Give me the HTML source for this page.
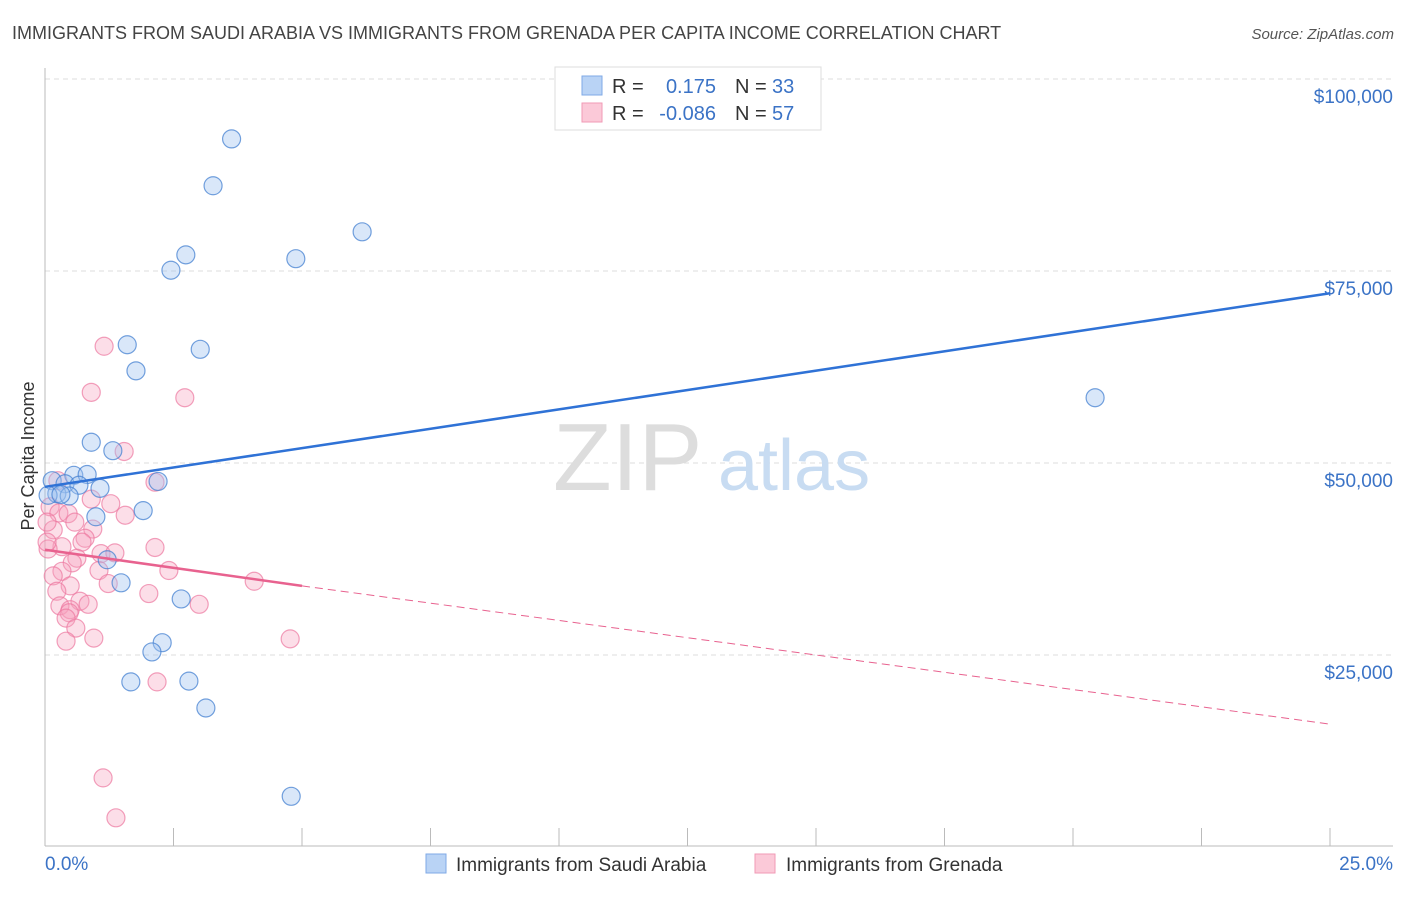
<!DOCTYPE html>
<html><head><meta charset="utf-8"><style>
body{margin:0;background:#fff;font-family:"Liberation Sans",sans-serif;}
svg text{font-family:"Liberation Sans",sans-serif;}
</style></head><body>
<svg id="chart" width="1406" height="892" xmlns="http://www.w3.org/2000/svg">
<text x="12" y="39" font-size="18" fill="#444">IMMIGRANTS FROM SAUDI ARABIA VS IMMIGRANTS FROM GRENADA PER CAPITA INCOME CORRELATION CHART</text>
<text x="1394" y="39" font-size="15" fill="#555" font-style="italic" text-anchor="end">Source: ZipAtlas.com</text>
<text transform="translate(34,456) rotate(-90)" font-size="18" fill="#333" text-anchor="middle">Per Capita Income</text>
<g id="grid"></g>
<g><text x="553" y="490" font-size="96" fill="#ddd" font-family="Liberation Serif,serif">ZIP</text><text x="718" y="490" font-size="72" fill="#c8dcf2">atlas</text></g>
<g id="axes"></g>
<g id="marks"></g>
<g>
<rect x="555" y="67" width="266" height="63" fill="#fff" stroke="#ddd"/>
<rect x="582" y="76" width="20" height="19" fill="#b9d3f5" stroke="#7fa9e6"/>
<rect x="582" y="103" width="20" height="19" fill="#fbc9d8" stroke="#f09ab6"/>
<text x="612" y="93" font-size="20" fill="#333">R =</text>
<text x="716" y="93" font-size="20" fill="#3b73c6" text-anchor="end">0.175</text>
<text x="735" y="93" font-size="20" fill="#333">N =</text><text x="772" y="93" font-size="20" fill="#3b73c6">33</text>
<text x="612" y="120" font-size="20" fill="#333">R =</text>
<text x="716" y="120" font-size="20" fill="#3b73c6" text-anchor="end">-0.086</text>
<text x="735" y="120" font-size="20" fill="#333">N =</text><text x="772" y="120" font-size="20" fill="#3b73c6">57</text>
</g>
<g>
<rect x="426" y="854" width="20" height="19" fill="#b9d3f5" stroke="#7fa9e6"/>
<text x="456" y="871" font-size="19" fill="#333">Immigrants from Saudi Arabia</text>
<rect x="755" y="854" width="20" height="19" fill="#fbc9d8" stroke="#f09ab6"/>
<text x="786" y="871" font-size="19" fill="#333">Immigrants from Grenada</text>
</g>
</svg>
<script>
const yTicks=[25000,50000,75000,100000];
const yTickLabels=["$25,000","$50,000","$75,000","$100,000"];
const xTicks=[0,2.5,5,7.5,10,12.5,15,17.5,20,22.5,25];
const saudiX=[3.63,3.27,6.17,2.74,2.45,4.88,1.60,3.02,1.77,20.43,0.90,1.32,0.56,0.82,0.14,0.39,0.66,1.07,2.20,0.23,0.47,0.06,0.31,1.91,0.99,1.21,1.48,2.65,2.28,2.08,1.67,2.80,3.13,4.79];
const saudiY=[92200,86100,80100,77100,75100,76600,65400,64800,62000,58500,52700,51600,48400,48500,47700,47300,47100,46700,47600,46000,45700,45800,45900,43800,43000,37400,34400,32300,26600,25400,21500,21600,18100,6600];
const grenadaX=[1.15,0.90,2.72,1.54,0.25,2.14,0.90,1.28,0.10,0.27,0.45,1.56,0.58,0.93,0.16,0.78,0.33,2.14,0.06,0.72,1.09,0.62,1.36,0.53,1.05,2.41,0.33,0.16,1.23,0.49,4.07,0.23,2.02,0.68,0.84,0.29,3.00,0.49,0.47,0.41,0.60,0.41,0.95,4.77,2.18,1.13,1.38,0.04,0.04];
const grenadaY=[65200,59200,58500,51500,47700,47500,45300,44700,44300,43500,43400,43200,42300,41400,41300,40200,39100,39000,38800,39700,38200,37600,38300,37000,36000,36000,35900,35300,34300,34000,34600,33300,33000,32000,31600,31400,31600,30900,30500,29800,28500,26800,27200,27100,21500,9000,3800,42300,39700];
const saudiTrend=[[0,46900],[25,72100]];
const grenadaSolid=[[0,38700],[5,34000]];
const grenadaDash=[[5,34000],[25,16000]];
const X0=45,X1=1330,Y0=847,PXV=192/25000;
function sx(v){return X0+(v/25)*(X1-X0);}
function sy(v){return Y0-v*PXV;}
const NS="http://www.w3.org/2000/svg";
function mk(tag,attrs,parent){const e=document.createElementNS(NS,tag);for(const k in attrs)e.setAttribute(k,attrs[k]);parent.appendChild(e);return e;}
const grid=document.getElementById('grid'),axes=document.getElementById('axes'),marks=document.getElementById('marks');
yTicks.forEach((t,i)=>{
 const l=mk('line',{x1:45,x2:1393,y1:sy(t),y2:sy(t),stroke:'#ddd','stroke-dasharray':'5,4'},grid);
 
 
 const tx=mk('text',{x:1393,y:sy(t)+24,'font-size':19,fill:'#3b73c6','text-anchor':'end'},axes);
 tx.textContent=yTickLabels[i];
 
 
});
const al=mk('line',{x1:45,x2:45,y1:68,y2:846,stroke:'#bbb'},axes);


const bl=mk('line',{x1:45,x2:1393,y1:846,y2:846,stroke:'#bbb'},axes);


xTicks.forEach(t=>{
 const tk=mk('line',{x1:sx(t),x2:sx(t),y1:828,y2:846,stroke:'#bbb'},axes);
 
 
});
const xl0=mk('text',{x:45,y:870,'font-size':19,fill:'#3b73c6'},axes);xl0.textContent='0.0%';


const xl1=mk('text',{x:1393,y:870,'font-size':19,fill:'#3b73c6','text-anchor':'end'},axes);xl1.textContent='25.0%';


grenadaX.forEach((x,i)=>{
 const c=mk('circle',{cx:sx(x),cy:sy(grenadaY[i]),r:9,fill:'rgba(246,160,188,0.35)',stroke:'rgba(236,120,160,0.7)','stroke-width':1.2},marks);
 
 
});
saudiX.forEach((x,i)=>{
 const c=mk('circle',{cx:sx(x),cy:sy(saudiY[i]),r:9,fill:'rgba(160,196,240,0.4)',stroke:'rgba(70,130,210,0.75)','stroke-width':1.2},marks);
 
 
});
const t1=mk('line',{x1:sx(saudiTrend[0][0]),y1:sy(saudiTrend[0][1]),x2:sx(saudiTrend[1][0]),y2:sy(saudiTrend[1][1]),stroke:'#2f72d6','stroke-width':2.5},marks);


const t2=mk('line',{x1:sx(grenadaSolid[0][0]),y1:sy(grenadaSolid[0][1]),x2:sx(grenadaSolid[1][0]),y2:sy(grenadaSolid[1][1]),stroke:'#e8628f','stroke-width':2.5},marks);


const t3=mk('line',{x1:sx(grenadaDash[0][0]),y1:sy(grenadaDash[0][1]),x2:sx(grenadaDash[1][0]),y2:sy(grenadaDash[1][1]),stroke:'#e8628f','stroke-width':1,'stroke-dasharray':'8,5'},marks);


</script>
</body></html>
